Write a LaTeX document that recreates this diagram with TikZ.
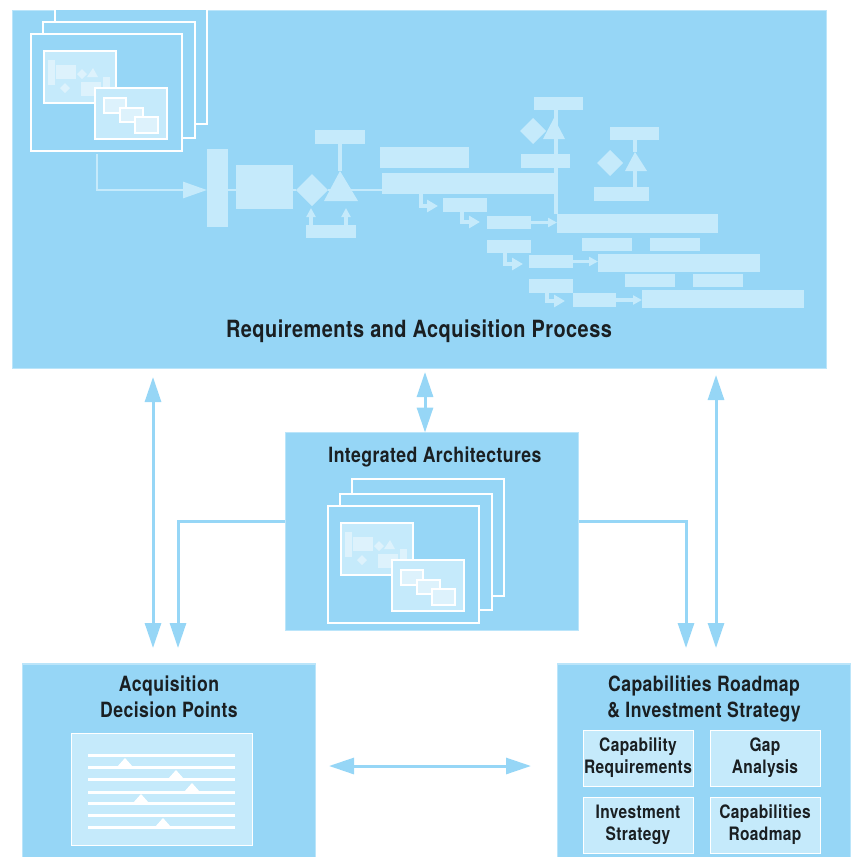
\documentclass[tikz,border=0pt]{standalone}
\usepackage{fontspec}
\setmainfont[FakeStretch=0.84,LetterSpace=2]{TeX Gyre Heros}
\usetikzlibrary{arrows.meta,shapes.geometric}
\definecolor{panelblue}{HTML}{96D6F6}
\definecolor{edgeblue}{HTML}{BBE5FA}
\definecolor{lightblue}{HTML}{C5EAFB}
\definecolor{paleblue}{HTML}{DDF2FC}
\definecolor{inkblack}{HTML}{1A1F22}
\tikzset{
    panel/.style = {draw=edgeblue,line width=1.5pt,fill=panelblue,inner sep=0pt,outer sep=0pt},
    flowbox/.style = {fill=lightblue,inner sep=0pt,outer sep=0pt},
    flowgate/.style = {diamond,aspect=1,fill=lightblue,inner sep=0pt,outer sep=0pt},
    flowline/.style = {draw=lightblue,line width=2.8pt},
    flowarrow/.style = {flowline,line width=3.5pt,-{Triangle[length=11pt,width=12pt]}},
    flowtick/.style = {flowline,line width=3.5pt,-{Triangle[length=9pt,width=9pt]}},
    sheet/.style = {draw=white,line width=1.5pt,fill=panelblue},
    shot/.style = {draw=white,line width=1.5pt,fill=lightblue},
    link/.style = {draw=panelblue,line width=3pt,-{Triangle[length=25pt,width=16pt]}},
    duplex/.style = {link,{Triangle[length=25pt,width=16pt]}-{Triangle[length=25pt,width=16pt]}},
    title/.style = {text=inkblack,font=\fontsize{21}{26}\selectfont\bfseries,align=center,inner sep=0pt},
    subbox/.style = {draw=white,line width=1pt,fill=lightblue,inner sep=0pt,text=inkblack,
        font=\fontsize{18.5}{22}\selectfont\bfseries,align=center,minimum width=110,minimum height=56},
    tick/.style = {fill=white}
}
\newcommand{\archstack}[2]{
    \begin{scope}[shift={(#1,#2)}]
        \draw[sheet] (55,7) rectangle (207,124);
        \draw[sheet] (43,22) rectangle (195,138);
        \draw[sheet] (31,34) rectangle (182,151);
        \draw[shot] (44,51) rectangle (116,103);
        \fill[paleblue] (48,60) rectangle (55,85);
        \fill[paleblue] (56,65) rectangle (76,79);
        \fill[paleblue] (77,74) -- (82,69) -- (87,74) -- (82,79) -- cycle;
        \fill[paleblue] (87,77) -- (93,68) -- (98,77) -- cycle;
        \fill[paleblue] (60,88) -- (65,83) -- (70,88) -- (65,93) -- cycle;
        \fill[paleblue] (81,82) rectangle (101,96);
        \fill[paleblue] (103,77) rectangle (110,90);
        \draw[shot] (95,88) rectangle (167,139);
        \draw[sheet,fill=paleblue] (104,98) rectangle (126,113);
        \draw[sheet,fill=paleblue] (120,108) rectangle (143,122);
        \draw[sheet,fill=paleblue] (135,117) rectangle (158,133);
    \end{scope}
}
\begin{document}
\begin{tikzpicture}[x=1pt,y=-1pt]
    \useasboundingbox (0,0) rectangle (856,857);

    \node[panel,minimum width=814,minimum height=358] (process) at (419.5,189.5) {};
    \node[panel,minimum width=293,minimum height=198] (architectures) at (432,531.5) {};
    \node[panel,minimum width=293,minimum height=210] (decisions) at (169,769) {};
    \node[panel,minimum width=293,minimum height=210] (roadmap) at (704,769) {};

    \begin{scope}
        \clip (12,10) rectangle (827,369);
        \archstack{0}{0}
    \end{scope}
    \archstack{297}{472}

    \coordinate (startflow) at (97,154);
    \coordinate (gateapex) at (340,171);
    \coordinate (lateapex) at (556,118);
    \coordinate (farapex) at (635,152);
    \fill[lightblue] (gateapex) -- (324,201) -- (358,201) -- cycle;
    \fill[lightblue] (554,118) -- (543,139) -- (565,139) -- cycle;
    \fill[lightblue] (farapex) -- (625,171) -- (647,171) -- cycle;

    \node[flowbox,minimum width=21,minimum height=78] (inbar) at (217.5,188) {};
    \node[flowbox,minimum width=57,minimum height=44] (inbox) at (264.5,187) {};
    \node[flowgate,minimum width=32,minimum height=32] (gate) at (312,190) {};
    \node[flowbox,minimum width=50,minimum height=14] (gatetop) at (340,137) {};
    \node[flowbox,minimum width=50,minimum height=13] (gatelow) at (331,231.5) {};
    \node[flowbox,minimum width=89,minimum height=21] (planbar) at (424.5,157.5) {};
    \node[flowbox,minimum width=174,minimum height=21] (mainbar) at (469,183.5) {};
    \node[flowbox,minimum width=44,minimum height=14] (taska) at (465,205) {};
    \node[flowbox,minimum width=44,minimum height=13] (taskb) at (509,222.5) {};
    \node[flowbox,minimum width=161,minimum height=19] (longa) at (637.5,223.5) {};

    \node[flowbox,minimum width=49,minimum height=13] (midtop) at (558.5,103.5) {};
    \node[flowgate,minimum width=26,minimum height=26] (midgate) at (533,131) {};
    \node[flowbox,minimum width=49,minimum height=14] (midlow) at (545.5,161) {};
    \node[flowbox,minimum width=49,minimum height=13] (fartop) at (634.5,133.5) {};
    \node[flowgate,minimum width=26,minimum height=26] (fargate) at (610,163) {};
    \node[flowbox,minimum width=55,minimum height=14] (farlow) at (621.5,194) {};

    \node[flowbox,minimum width=44,minimum height=13] (taskc) at (509,246.5) {};
    \node[flowbox,minimum width=44,minimum height=13] (taskd) at (551,261.5) {};
    \node[flowbox,minimum width=162,minimum height=18] (longb) at (679,263) {};
    \node[flowbox,minimum width=50,minimum height=13] (noteb) at (607,244.5) {};
    \node[flowbox,minimum width=50,minimum height=13] (notec) at (675,244.5) {};
    \node[flowbox,minimum width=44,minimum height=14] (taske) at (551,286) {};
    \node[flowbox,minimum width=43,minimum height=14] (taskf) at (594.5,300) {};
    \node[flowbox,minimum width=162,minimum height=18] (longc) at (723,299) {};
    \node[flowbox,minimum width=50,minimum height=13] (noted) at (650,280.5) {};
    \node[flowbox,minimum width=50,minimum height=13] (notee) at (718,280.5) {};

    \draw[flowline,-{Triangle[length=24pt,width=16pt]}] (startflow) |- (inbar.west |- gate.west);
    \draw[flowline] (inbar.east |- gate.west) -- (inbox.west |- gate.west);
    \draw[flowline] (inbox.east |- gate.west) -- (gate.west);
    \draw[flowline,line width=3.2pt] (gatetop.south) -- (gateapex);
    \draw[flowline,line width=2pt] (gate.east) -- (mainbar.west |- gate.east);
    \draw[flowline,line width=3.2pt] (longa.north west) ++(-1,0) -- (lateapex |- midtop.south);
    \draw[flowtick] (gatelow.north -| 311,0) -- (311,208);
    \draw[flowtick] (gatelow.north -| 346,0) -- (346,208);
    \draw[flowarrow] (mainbar.south -| 421,0) |- (438,206);
    \draw[flowarrow] (taska.south -| 462,0) |- (480,222);
    \draw[flowtick] (taskb.east) -- (longa.west |- taskb.east);
    \draw[flowline,line width=3.2pt] (fartop.south -| farapex) -- (farapex);
    \draw[flowline,line width=3.2pt] (farlow.north -| farapex) -- (farapex |- 0,171);
    \draw[flowarrow] (taskc.south -| 505,0) |- (523,264);
    \draw[flowtick] (taskd.east) -- (longb.west |- taskd.east);
    \draw[flowarrow] (taske.south -| 547,0) |- (565,301);
    \draw[flowtick] (taskf.east) -- (longc.west |- taskf.east);

    \coordinate (leftup) at (153,377);
    \coordinate (leftdown) at (153,648);
    \coordinate (leftelbow) at (178,648);
    \coordinate (centerup) at (425,372);
    \coordinate (rightup) at (716,375);
    \coordinate (rightdown) at (716,648);
    \coordinate (rightelbow) at (686,648);
    \coordinate (bottomleft) at (329,766);
    \coordinate (bottomright) at (531,766);
    \coordinate (archleft) at (285,521);
    \coordinate (archright) at (579,521);
    \draw[duplex] (leftup) -- (leftdown);
    \draw[duplex] (centerup) -- (architectures.north -| centerup);
    \draw[duplex] (rightup) -- (rightdown);
    \draw[duplex] (bottomleft) -- (bottomright);
    \draw[link] (archleft) -| (leftelbow);
    \draw[link] (archright) -| (rightelbow);

    \node[title,font=\fontsize{23.7}{26}\selectfont\bfseries] (processname) at (419,331) {Requirements and Acquisition Process};
    \node[title] (archname) at (435,457) {Integrated Architectures};
    \node[title] (decisionname) at (169,697) {Acquisition\\Decision Points};
    \node[title] (roadmapname) at (704,699) {Capabilities Roadmap\\\& Investment Strategy};

    \node[draw=white,line width=1pt,fill=lightblue,minimum width=181,minimum height=112,inner sep=0pt] (schedule) at (162,789) {};
    \foreach \liney in {755,767,779,792,803,815,827}
        \draw[white,line width=3pt] (88,\liney) -- (235,\liney);
    \foreach \markx/\marky in {125/767,176/779,192/792,141/803,163/827}
        \fill[tick] (\markx-8,\marky) -- (\markx,\marky-9) -- (\markx+8,\marky) -- cycle;

    \node[subbox] (capreq) at (638,758) {Capability\\Requirements};
    \node[subbox] (gaps) at (765,758) {Gap\\Analysis};
    \node[subbox] (invest) at (638,825) {Investment\\Strategy};
    \node[subbox] (capmap) at (765,825) {Capabilities\\Roadmap};
\end{tikzpicture}
\end{document}
